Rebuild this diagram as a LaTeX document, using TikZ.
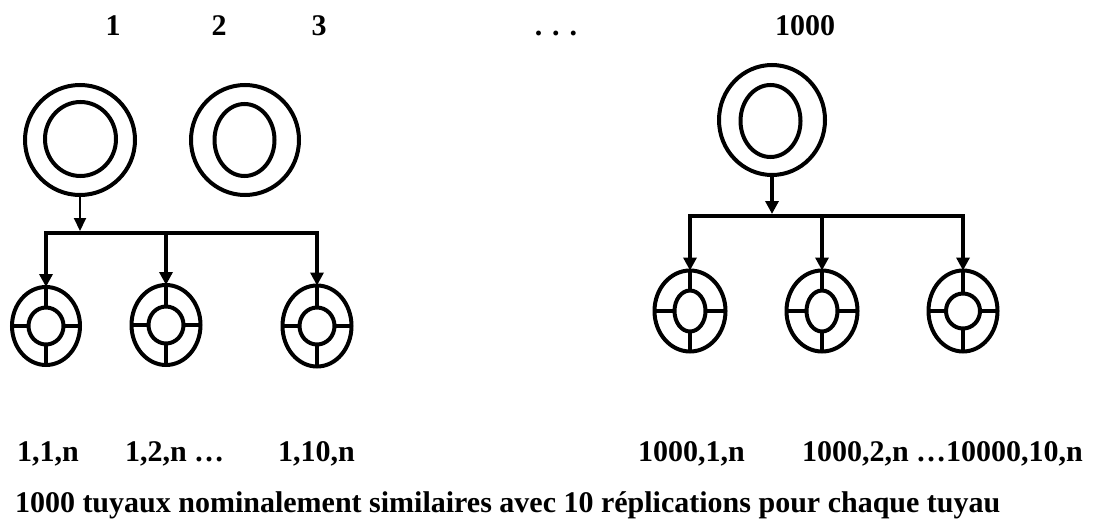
\documentclass[tikz,border=0pt]{standalone}
\usepackage{fontspec}
\setmainfont{Liberation Serif}
\usetikzlibrary{shapes.geometric,arrows.meta}
\begin{document}
\begin{tikzpicture}[x=1pt,y=-1pt,
  lbl/.style={font=\fontsize{30}{36}\selectfont\bfseries, inner sep=0pt, outer sep=0pt},
  ring/.style={draw, ellipse, line width=4pt, inner sep=0pt, outer sep=0pt},
  spoke/.style={line width=3.5pt},
  bar/.style={line width=4pt, line cap=rect},
  arr/.style={line width=4pt, -{Triangle[length=13pt,width=13pt]}},
  tarr/.style={line width=2pt, -{Triangle[length=13pt,width=12pt]}}]
\useasboundingbox (0,0) rectangle (1094,522);

% top labels
\node[lbl, anchor=base] (n1) at (113,35) {1};
\node[lbl, anchor=base] (n2) at (219,35) {2};
\node[lbl, anchor=base] (n3) at (319,35) {3};
\node[lbl, anchor=base] (ndots) at (556,35) {. . .};
\node[lbl, anchor=base] (n1000) at (805,35) {1000};

% big pipes
\node[ring, minimum width=110, minimum height=110] (b1) at (80,140) {};
\node[ring, minimum width=71, minimum height=74] (b1i) at (80.5,139) {};
\node[ring, minimum width=108, minimum height=110] (b2) at (245,140) {};
\node[ring, minimum width=60, minimum height=72] (b2i) at (244.5,140) {};
\node[ring, minimum width=106, minimum height=110] (b3) at (772,120) {};
\node[ring, minimum width=60, minimum height=72] (b3i) at (770.5,121) {};

% replications
\foreach \n/\x/\y/\a/\b/\c/\d in {
  c1/46/326/68/78/35/37,
  c2/166/325/69/80/35/37,
  c3/317/326/69/81/35/37,
  r1/690/311/71/81/31/41,
  r2/822/311/71/81/31/41,
  r3/963/311/69/81/34/35}{
  \node[ring, minimum width=\a, minimum height=\b] (\n o) at (\x,\y) {};
  \node[ring, minimum width=\c, minimum height=\d] (\n i) at (\x,\y) {};
  \draw[spoke] (\n o.north) -- (\n i.north);
  \draw[spoke] (\n o.south) -- (\n i.south);
  \draw[spoke] (\n o.west) -- (\n i.west);
  \draw[spoke] (\n o.east) -- (\n i.east);
}

% left group connectors
\coordinate (t1) at (b1.south |- 0,231);
\draw[tarr] (b1.south) -- (t1);
\coordinate (j1) at (c1o.north |- 0,233);
\coordinate (j2) at (c2o.north |- 0,233);
\coordinate (j3) at (c3o.north |- 0,233);
\draw[bar] (j1) -- (j3);
\draw[arr] (j1) -- (c1o.north);
\draw[arr] (j2) -- (c2o.north);
\draw[arr] (j3) -- (c3o.north);

% right group connectors
\coordinate (t3) at (b3.south |- 0,214);
\draw[arr] (b3.south) -- (t3);
\coordinate (k1) at (r1o.north |- 0,216);
\coordinate (k2) at (r2o.north |- 0,216);
\coordinate (k3) at (r3o.north |- 0,216);
\draw[bar] (k1) -- (k3);
\draw[arr] (k1) -- (r1o.north);
\draw[arr] (k2) -- (r2o.north);
\draw[arr] (k3) -- (r3o.north);

% bottom labels
\node[lbl, anchor=base west] (l11) at (17,461) {1,1,n};
\node[lbl, anchor=base west] (l12) at (125,461) {1,2,n …};
\node[lbl, anchor=base west] (l110) at (278,461) {1,10,n};
\node[lbl, anchor=base west] (l10001) at (638,461) {1000,1,n};
\node[lbl, anchor=base west] (l10002) at (802,461) {1000,2,n …10000,10,n};
\node[lbl, anchor=base west] (cap) at (15,512) {1000 tuyaux nominalement similaires avec 10 réplications pour chaque tuyau};
\end{tikzpicture}
\end{document}
